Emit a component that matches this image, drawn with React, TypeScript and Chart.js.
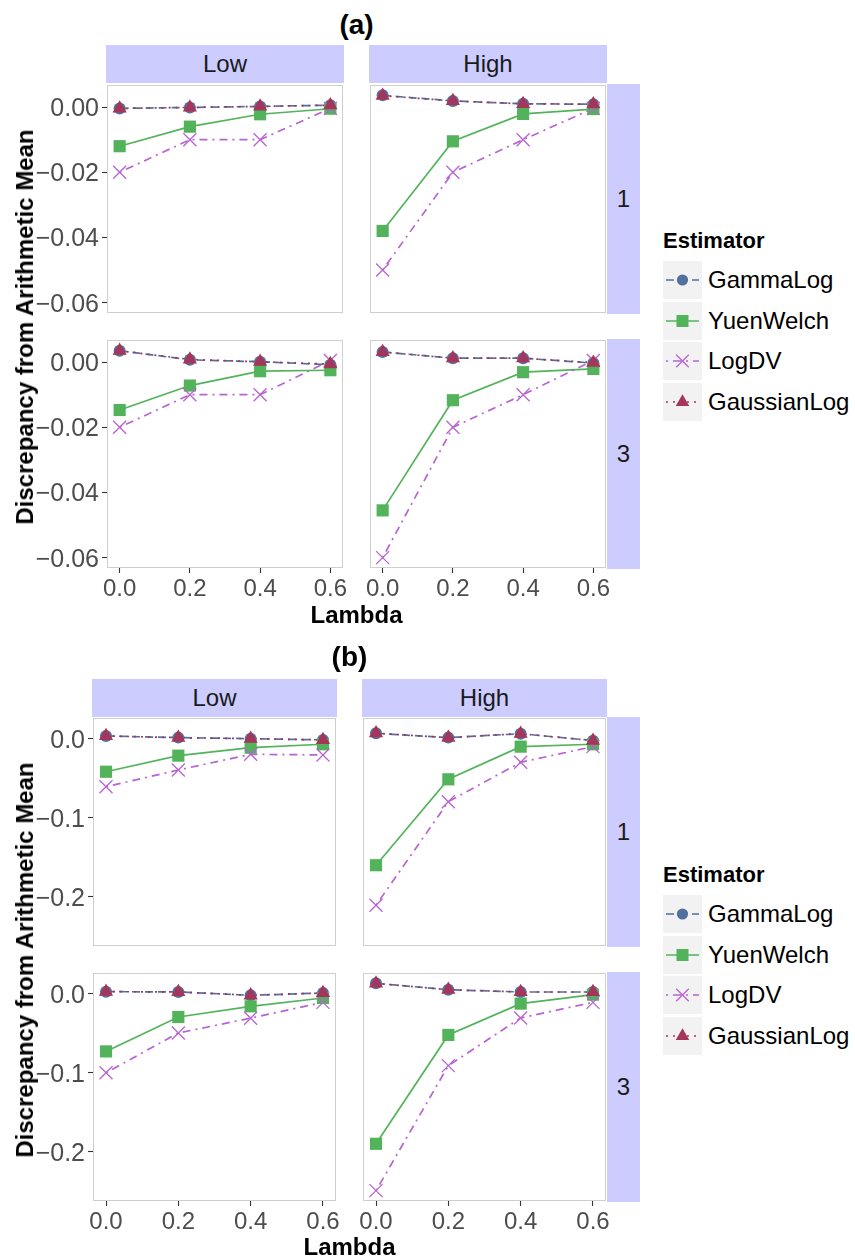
import React, { useEffect, useRef } from "react";
import { Chart, registerables } from "chart.js";

Chart.register(...registerables);

// ---------------- data ----------------
const lambda = [0, 0.2, 0.4, 0.6];
const estimators = ["GammaLog", "YuenWelch", "LogDV", "GaussianLog"];
const facetCols = ["Low", "High"];
const facetRows = ["1", "3"];

// each facet: rows = estimators (GammaLog, YuenWelch, LogDV, GaussianLog), cols = lambda
const aLow1 = [
  [-0.0004, -0.0001, 0.0002, 0.0006],
  [-0.012, -0.006, -0.0022, -0.0005],
  [-0.02, -0.01, -0.01, -0.0004],
  [-0.0004, -0.0001, 0.0002, 0.0006],
];
const aHigh1 = [
  [0.0036, 0.0019, 0.001, 0.0009],
  [-0.038, -0.0105, -0.0021, -0.0006],
  [-0.05, -0.02, -0.01, -0.0004],
  [0.0035, 0.0019, 0.001, 0.0009],
];
const aLow3 = [
  [0.0035, 0.0007, 0.0001, -0.0008],
  [-0.0147, -0.0072, -0.0028, -0.0025],
  [-0.02, -0.01, -0.01, 0.0005],
  [0.0035, 0.0008, 0.0001, -0.0006],
];
const aHigh3 = [
  [0.0031, 0.0012, 0.0012, -0.0003],
  [-0.0455, -0.0117, -0.0031, -0.0021],
  [-0.06, -0.02, -0.01, 0.0005],
  [0.0031, 0.0012, 0.0012, -0.0002],
];
const bLow1 = [
  [0.0034, 0.0013, 0.0, -0.0016],
  [-0.0418, -0.0215, -0.0114, -0.0071],
  [-0.0608, -0.0396, -0.0198, -0.0206],
  [0.0034, 0.0013, 0.0, -0.0016],
];
const bHigh1 = [
  [0.0068, 0.0013, 0.0063, -0.0025],
  [-0.16, -0.0514, -0.0101, -0.0071],
  [-0.2105, -0.0797, -0.0299, -0.0101],
  [0.0068, 0.0013, 0.0063, -0.0025],
];
const bLow3 = [
  [0.0025, 0.0022, -0.0021, 0.0008],
  [-0.073, -0.0295, -0.016, -0.0055],
  [-0.1, -0.0497, -0.031, -0.011],
  [0.0025, 0.0022, -0.0021, 0.0008],
];
const bHigh3 = [
  [0.013, 0.005, 0.0021, 0.0021],
  [-0.1898, -0.0522, -0.0126, -0.0013],
  [-0.249, -0.091, -0.0307, -0.011],
  [0.013, 0.005, 0.0021, 0.0021],
];

const xTicks = [0, 0.2, 0.4, 0.6];
const xTickLabels = ["0.0", "0.2", "0.4", "0.6"];
const yTicksA = [0, -0.02, -0.04, -0.06];
const yTickLabelsA = ["0.00", "\u22120.02", "\u22120.04", "\u22120.06"];
const yTicksB = [0, -0.1, -0.2];
const yTickLabelsB = ["0.0", "\u22120.1", "\u22120.2"];

// ---------------- styles ----------------
const FONT = "'Liberation Sans', Arial, Helvetica, sans-serif";
const colors = ["#52709e", "#53b35b", "#b764d2", "#a3365a"];
const shapes = ["circle", "rect", "crossRot", "triangle"];
const radii = [6, 8.6, 9.2, 8.2];
const dashes: number[][] = [[8, 5], [], [2, 5, 8, 5], [2, 5]];
const lineOrder = [13, 12, 11, 10];
const pointOrder = [3, 2, 1, 0];

Chart.defaults.font.family = FONT;

function expandRange(arrs: number[][][]) {
  let mn = Infinity, mx = -Infinity;
  arrs.forEach((f) => f.forEach((s) => s.forEach((v) => { mn = Math.min(mn, v); mx = Math.max(mx, v); })));
  const e = (mx - mn) * 0.05;
  return [mn - e, mx + e];
}
const xSpan = lambda[lambda.length - 1] - lambda[0];
const xRange = [lambda[0] - 0.06 * xSpan, lambda[lambda.length - 1] + 0.06 * xSpan];

const borderPlugin = {
  id: "panelBorder",
  beforeDatasetsDraw(chart: any) {
    const { ctx, chartArea } = chart;
    ctx.save();
    ctx.strokeStyle = "#cfcfcf";
    ctx.lineWidth = 1;
    ctx.strokeRect(chartArea.left + 0.5, chartArea.top + 0.5, chartArea.right - chartArea.left - 1, chartArea.bottom - chartArea.top - 1);
    ctx.restore();
  },
};

const PAD = 26;
const AXIS_H = 44;

type FacetProps = {
  x0: number; x1: number; y0: number; y1: number;
  data: number[][];
  yRange: number[];
  yTicks: number[];
  yLabels: string[];
  showY: boolean;
  showX: boolean;
};

function Facet({ x0, x1, y0, y1, data, yRange, yTicks, yLabels, showY, showX }: FacetProps) {
  const ref = useRef<HTMLCanvasElement>(null);
  const left = showY ? 0 : x0 - PAD;
  const axisW = x0;
  const top = y0 - PAD;
  const w = x1 + PAD - left;
  const h = (showX ? y1 + AXIS_H : y1 + PAD) - top;

  useEffect(() => {
    const datasets: any[] = [];
    estimators.forEach((name, i) => {
      datasets.push({
        label: name + " line",
        data: lambda.map((x, j) => ({ x, y: data[i][j] })),
        borderColor: colors[i],
        borderWidth: 1.7,
        borderDash: dashes[i],
        pointRadius: 0,
        tension: 0,
        fill: false,
        order: lineOrder[i],
        clip: false,
      });
    });
    estimators.forEach((name, i) => {
      datasets.push({
        label: name,
        data: lambda.map((x, j) => ({ x, y: data[i][j] })),
        showLine: false,
        pointStyle: shapes[i],
        pointRadius: radii[i],
        pointBackgroundColor: colors[i],
        pointBorderColor: colors[i],
        pointBorderWidth: shapes[i] === "crossRot" ? 1.3 : 0,
        order: pointOrder[i],
        clip: false,
      });
    });
    const xScale: any = {
      type: "linear",
      display: showX,
      min: xRange[0],
      max: xRange[1],
      afterBuildTicks: (s: any) => { s.ticks = xTicks.map((v) => ({ value: v })); },
      grid: { drawOnChartArea: false, drawTicks: true, tickLength: 5, tickColor: "#333333", tickWidth: 1.1 },
      border: { display: false },
      ticks: {
        autoSkip: false,
        maxRotation: 0,
        padding: 2,
        color: "#4d4d4d",
        font: { size: 24, family: FONT },
        callback: (_v: any, idx: number) => xTickLabels[idx],
      },
    };
    if (showX) xScale.afterFit = (s: any) => { s.height = AXIS_H; };
    const yScale: any = {
      type: "linear",
      display: showY,
      min: yRange[0],
      max: yRange[1],
      afterBuildTicks: (s: any) => { s.ticks = yTicks.map((v) => ({ value: v })); },
      grid: { drawOnChartArea: false, drawTicks: true, tickLength: 5, tickColor: "#333333", tickWidth: 1.1 },
      border: { display: false },
      ticks: {
        autoSkip: false,
        padding: 3,
        labelOffset: 2,
        color: "#4d4d4d",
        font: { size: 25, family: FONT },
        callback: (_v: any, idx: number) => yLabels[idx],
      },
    };
    if (showY) yScale.afterFit = (s: any) => { s.width = axisW; };

    const chart = new Chart(ref.current as HTMLCanvasElement, {
      type: "line",
      data: { datasets },
      plugins: [borderPlugin],
      options: {
        responsive: false,
        animation: false,
        devicePixelRatio: 1,
        layout: {
          autoPadding: false,
          padding: { left: showY ? 0 : PAD, right: PAD, top: PAD, bottom: showX ? 0 : PAD },
        },
        plugins: { legend: { display: false }, tooltip: { enabled: false } },
        scales: { x: xScale, y: yScale },
      } as any,
    });
    return () => chart.destroy();
  }, []);

  return (
    <canvas
      ref={ref}
      width={w}
      height={h}
      style={{ position: "absolute", left, top, width: w, height: h }}
    />
  );
}

function Txt({ x, y, size, bold, children, color = "#000", rotate = false, anchor = "center" }: any) {
  const tx = anchor === "left" ? "0" : "-50%";
  return (
    <div
      style={{
        position: "absolute",
        left: x,
        top: y,
        transform: `translate(${tx},-50%)${rotate ? " rotate(-90deg)" : ""}`,
        fontSize: size,
        lineHeight: size + "px",
        fontWeight: bold ? "bold" : "normal",
        fontFamily: FONT,
        color,
        whiteSpace: "nowrap",
      }}
    >
      {children}
    </div>
  );
}

function Strip({ x0, x1, y0, y1, text }: any) {
  return (
    <div
      style={{
        position: "absolute",
        left: x0,
        top: y0,
        width: x1 - x0,
        height: y1 - y0,
        background: "#ccccff",
        display: "flex",
        alignItems: "center",
        justifyContent: "center",
        fontFamily: FONT,
        fontSize: 24,
        lineHeight: "24px",
        color: "#1a1a1a",
      }}
    >
      {text}
    </div>
  );
}

function LegendKey({ i }: { i: number }) {
  const c = colors[i];
  const cx = 19.5, cy = 19;
  let marker: any = null;
  if (shapes[i] === "circle") marker = <circle cx={cx} cy={cy} r={5.6} fill={c} />;
  else if (shapes[i] === "rect") marker = <rect x={cx - 6} y={cy - 6} width={12} height={12} fill={c} />;
  else if (shapes[i] === "crossRot")
    marker = (
      <g stroke={c} strokeWidth={1.3}>
        <line x1={cx - 6.3} y1={cy - 6.3} x2={cx + 6.3} y2={cy + 6.3} />
        <line x1={cx - 6.3} y1={cy + 6.3} x2={cx + 6.3} y2={cy - 6.3} />
      </g>
    );
  else {
    const r = 7.8;
    marker = (
      <polygon
        points={`${cx},${cy - r} ${cx + r * 0.866},${cy + r * 0.5} ${cx - r * 0.866},${cy + r * 0.5}`}
        fill={c}
      />
    );
  }
  return (
    <svg width={39} height={38} style={{ display: "block", background: "#f2f2f2" }}>
      <line x1={3} y1={cy} x2={36} y2={cy} stroke={c} strokeWidth={1.7} strokeDasharray={dashes[i].length ? dashes[i].join(" ") : undefined} />
      {marker}
    </svg>
  );
}

function Legend({ titleY, keyTop }: { titleY: number; keyTop: number }) {
  return (
    <>
      <Txt x={663} y={titleY} size={22} bold anchor="left">Estimator</Txt>
      {estimators.map((name, i) => (
        <React.Fragment key={name}>
          <div style={{ position: "absolute", left: 663, top: keyTop + i * 40.5 }}>
            <LegendKey i={i} />
          </div>
          <Txt x={708} y={keyTop + i * 40.5 + 19} size={24} anchor="left" color="#000">{name}</Txt>
        </React.Fragment>
      ))}
    </>
  );
}

type FigProps = {
  label: string;
  titleY: number;
  stripY: number[];
  cols: number[][];
  rows: number[][];
  facets: number[][][];
  yTicks: number[];
  yLabels: string[];
  lambdaY: number;
  legendTitleY: number;
  legendKeyTop: number;
};

function Figure(p: FigProps) {
  const yRange = expandRange(p.facets);
  const midX = (p.cols[0][0] + p.cols[1][1]) / 2;
  const midY = (p.rows[0][0] + p.rows[1][1]) / 2;
  return (
    <>
      <Txt x={midX} y={p.titleY} size={28} bold>{p.label}</Txt>
      {facetCols.map((c, ci) => (
        <Strip key={"c" + c} x0={p.cols[ci][0] - 1} x1={p.cols[ci][1] + 1} y0={p.stripY[0]} y1={p.stripY[1]} text={c} />
      ))}
      {facetRows.map((r, ri) => (
        <Strip key={"r" + r} x0={p.cols[1][1] + 1} x1={640} y0={p.rows[ri][0] - 1} y1={p.rows[ri][1] + 1} text={r} />
      ))}
      {p.rows.map((row, ri) =>
        p.cols.map((col, ci) => (
          <Facet
            key={ri + "-" + ci}
            x0={col[0]}
            x1={col[1]}
            y0={row[0]}
            y1={row[1]}
            data={p.facets[ri * 2 + ci]}
            yRange={yRange}
            yTicks={p.yTicks}
            yLabels={p.yLabels}
            showY={ci === 0}
            showX={ri === 1}
          />
        ))
      )}
      <Txt x={midX} y={p.lambdaY} size={24} bold>Lambda</Txt>
      <Txt x={24.7} y={midY} size={24} bold rotate>Discrepancy from Arithmetic Mean</Txt>
      <Legend titleY={p.legendTitleY} keyTop={p.legendKeyTop} />
    </>
  );
}

export default function App() {
  return (
    <div style={{ position: "absolute", left: 0, top: 0, width: 855, height: 1257, background: "#fff", overflow: "hidden" }}>
      <Figure
        label="(a)"
        titleY={24.5}
        stripY={[45, 83]}
        cols={[[107, 343], [370, 606]]}
        rows={[[85, 313], [340, 568]]}
        facets={[aLow1, aHigh1, aLow3, aHigh3]}
        yTicks={yTicksA}
        yLabels={yTickLabelsA}
        lambdaY={615}
        legendTitleY={241}
        legendKeyTop={261}
      />
      <Figure
        label="(b)"
        titleY={657}
        stripY={[679, 717]}
        cols={[[93, 336], [363, 606]]}
        rows={[[718, 946], [973, 1201]]}
        facets={[bLow1, bHigh1, bLow3, bHigh3]}
        yTicks={yTicksB}
        yLabels={yTickLabelsB}
        lambdaY={1247}
        legendTitleY={875}
        legendKeyTop={895}
      />
    </div>
  );
}
